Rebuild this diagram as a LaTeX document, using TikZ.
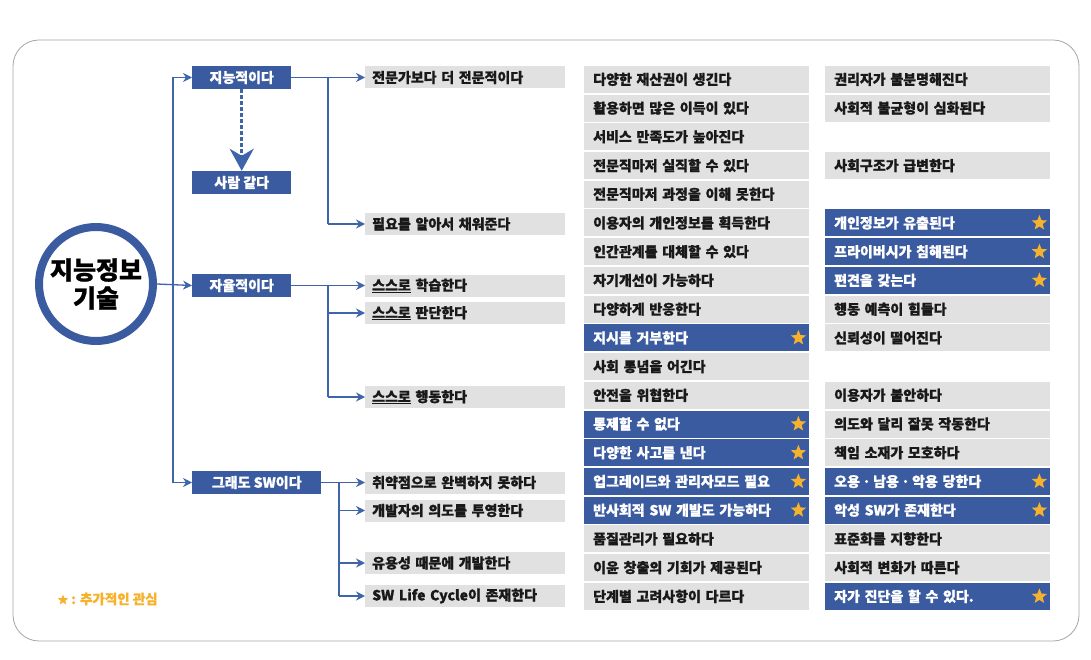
\documentclass[tikz,border=0pt]{standalone}
\usepackage{fontspec}
\setmainfont{Noto Sans CJK KR}[BoldFeatures={FakeBold=0.9}]
\usetikzlibrary{arrows.meta,shapes.geometric}
\definecolor{bl}{RGB}{59,91,160}
\definecolor{ln}{RGB}{62,100,170}
\definecolor{gc}{RGB}{225,225,225}
\definecolor{st}{RGB}{247,178,45}
\definecolor{tx}{RGB}{25,25,25}
\definecolor{fr}{RGB}{165,165,165}
\begin{document}
\begin{tikzpicture}[x=1pt,y=-1pt,
 every node/.style={font=\fontsize{14}{16}\selectfont\bfseries},
 lone/.style={fill=bl,text=white,minimum height=23pt,minimum width=99pt,inner sep=0pt,anchor=west},
 ctwo/.style={fill=gc,text=tx,minimum height=22pt,text width=186pt,inner xsep=7pt,inner ysep=0pt,align=left,anchor=west},
 gcell/.style={fill=gc,text=tx,minimum height=27pt,text width=207pt,inner xsep=9pt,inner ysep=0pt,align=left,anchor=west},
 bcell/.style={gcell,fill=bl,text=white},
 ostar/.style={star,star points=5,star point ratio=2.3,fill=st,minimum size=16pt,inner sep=0pt},
 conn/.style={draw=ln,line width=1.3pt,-{Stealth[length=9pt,width=9pt]}},
 wire/.style={draw=ln,line width=1.3pt}
]
\useasboundingbox (0,0) rectangle (1091,660);
\draw[fr,line width=0.8pt,rounded corners=26pt] (13,40) rectangle (1079,641);

% root
\node[circle,draw=bl,line width=8pt,minimum size=114pt,inner sep=0pt,align=center,text=black,
      font=\fontsize{25}{28}\selectfont\bfseries] (root) at (96,284) {지능정보\\기술};

% level 1
\node[lone] (intel) at (192,77.5) {지능적이다};
\node[lone] (human) at (192,182.5) {사람 같다};
\node[lone] (auto) at (192,285.5) {자율적이다};
\node[lone,minimum width=129pt] (sw) at (192,482.5) {그래도 SW이다};

% level 2
\node[ctwo] (ca) at (365,77.5) {전문가보다 더 전문적이다};
\node[ctwo] (cb) at (365,224) {필요를 알아서 채워준다};
\node[ctwo] (cc) at (365,285.5) {\underline{스스로} 학습한다};
\node[ctwo] (cd) at (365,313) {\underline{스스로} 판단한다};
\node[ctwo] (ce) at (365,397) {\underline{스스로} 행동한다};
\node[ctwo] (cf) at (365,482.5) {취약점으로 완벽하지 못하다};
\node[ctwo] (cg) at (365,510.5) {개발자의 의도를 투영한다};
\node[ctwo] (ch) at (365,563) {유용성 때문에 개발한다};
\node[ctwo] (ci) at (365,596) {SW Life Cycle이 존재한다};

% column 3
\node[gcell] (t1) at (584,79.4) {다양한 재산권이 생긴다};
\node[gcell] (t2) at (584,108.1) {활용하면 많은 이득이 있다};
\node[gcell] (t3) at (584,136.8) {서비스 만족도가 높아진다};
\node[gcell] (t4) at (584,165.6) {전문직마저 실직할 수 있다};
\node[gcell] (t5) at (584,194.3) {전문직마저 과정을 이해 못한다};
\node[gcell] (t6) at (584,223.0) {이용자의 개인정보를 획득한다};
\node[gcell] (t7) at (584,251.7) {인간관계를 대체할 수 있다};
\node[gcell] (t8) at (584,280.4) {자기개선이 가능하다};
\node[gcell] (t9) at (584,309.2) {다양하게 반응한다};
\node[bcell] (t10) at (584,337.9) {지시를 거부한다};
\node[gcell] (t11) at (584,366.6) {사회 통념을 어긴다};
\node[gcell] (t12) at (584,395.3) {안전을 위협한다};
\node[bcell] (t13) at (584,424.0) {통제할 수 없다};
\node[bcell] (t14) at (584,452.8) {다양한 사고를 낸다};
\node[bcell] (t15) at (584,481.5) {업그레이드와 관리자모드 필요};
\node[bcell] (t16) at (584,510.2) {반사회적 SW 개발도 가능하다};
\node[gcell] (t17) at (584,538.9) {품질관리가 필요하다};
\node[gcell] (t18) at (584,567.6) {이윤 창출의 기회가 제공된다};
\node[gcell] (t19) at (584,596.4) {단계별 고려사항이 다르다};

% column 4
\node[gcell] (f1) at (825,79.4) {권리자가 불분명해진다};
\node[gcell] (f2) at (825,108.1) {사회적 불균형이 심화된다};
\node[gcell] (f4) at (825,165.6) {사회구조가 급변한다};
\node[bcell] (f6) at (825,223.0) {개인정보가 유출된다};
\node[bcell] (f7) at (825,251.7) {프라이버시가 침해된다};
\node[bcell] (f8) at (825,280.4) {편견을 갖는다};
\node[gcell] (f9) at (825,309.2) {행동 예측이 힘들다};
\node[gcell] (f10) at (825,337.9) {신뢰성이 떨어진다};
\node[gcell] (f12) at (825,395.3) {이용자가 불안하다};
\node[gcell] (f13) at (825,424.0) {의도와 달리 잘못 작동한다};
\node[gcell] (f14) at (825,452.8) {책임 소재가 모호하다};
\node[bcell] (f15) at (825,481.5) {오용\,·\,남용\,·\,악용 당한다};
\node[bcell] (f16) at (825,510.2) {악성 SW가 존재한다};
\node[gcell] (f17) at (825,538.9) {표준화를 지향한다};
\node[gcell] (f18) at (825,567.6) {사회적 변화가 따른다};
\node[bcell] (f19) at (825,596.4) {자가 진단을 할 수 있다.};

% stars
\foreach \n in {t10,t13,t14,t15,t16} { \node[ostar] (s\n) at ([xshift=-11pt]\n.east) {}; }
\foreach \n in {f6,f7,f8,f15,f16,f19} { \node[ostar] (s\n) at ([xshift=-11pt]\n.east) {}; }

% legend
\node[ostar,minimum size=11pt] (lgs) at (63,600) {};
\node[text=st,anchor=west,inner sep=0pt,font=\fontsize{13.5}{15}\selectfont\bfseries] (lgt) at (71,599) {: 추가적인 관심};

% connectors
\coordinate (tr) at (173,0);
\coordinate (ba) at (328,0);
\coordinate (bc) at (339,0);
\draw[wire] (tr |- intel.west) -- (tr |- sw.west);
\draw[conn] (tr |- intel.west) -- (intel.west);
\draw[conn] (root.east) -- (auto.west);
\draw[conn] (tr |- sw.west) -- (sw.west);
\draw[draw=ln,line width=3pt,dash pattern=on 4pt off 2pt,-{Stealth[length=22pt,width=24pt,inset=7pt]}] (intel.south) -- (human.north);

\draw[wire] (intel.east) -- (ba |- intel.east) -- (ba |- cb.west);
\draw[conn] (ba |- ca.west) -- (ca.west);
\draw[conn] (ba |- cb.west) -- (cb.west);

\draw[wire] (auto.east) -- (ba |- auto.east) -- (ba |- ce.west);
\draw[conn] (ba |- cc.west) -- (cc.west);
\draw[conn] (ba |- cd.west) -- (cd.west);
\draw[conn] (ba |- ce.west) -- (ce.west);

\draw[wire] (sw.east) -- (bc |- sw.east) -- (bc |- ci.west);
\draw[conn] (bc |- cf.west) -- (cf.west);
\draw[conn] (bc |- cg.west) -- (cg.west);
\draw[conn] (bc |- ch.west) -- (ch.west);
\draw[conn] (bc |- ci.west) -- (ci.west);
\end{tikzpicture}
\end{document}
